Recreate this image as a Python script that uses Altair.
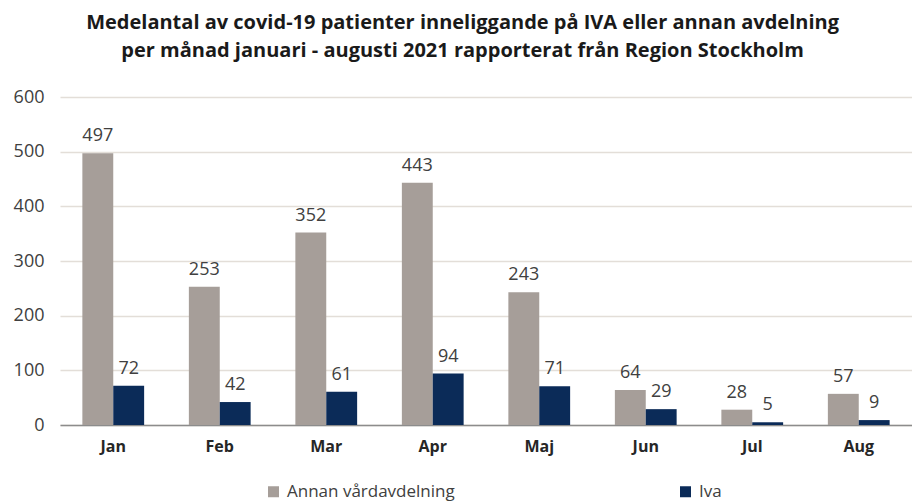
import altair as alt
import pandas as pd

months = ["Jan", "Feb", "Mar", "Apr", "Maj", "Jun", "Jul", "Aug"]
annan = [497, 253, 352, 443, 243, 64, 28, 57]
iva = [72, 42, 61, 94, 71, 29, 5, 9]
series = ["Annan vårdavdelning", "Iva"]
colors = ["#a69e99", "#0b2b58"]

rows = []
for i, m in enumerate(months):
    rows.append({"month": m, "series": series[0], "value": annan[i]})
    rows.append({"month": m, "series": series[1], "value": iva[i]})
df = pd.DataFrame(rows)

FONT = "Open Sans"

x = alt.X("month:N", sort=months, title=None,
          scale=alt.Scale(paddingInner=0.42, paddingOuter=0.21),
          axis=alt.Axis(labelAngle=0, labelFontWeight="bold", labelFontSize=16,
                        labelColor="#262626", labelPadding=13, ticks=False,
                        domainColor="#8c8c8c", domainWidth=1.5, labelFont=FONT))
xo = alt.XOffset("series:N", sort=series)
y = alt.Y("value:Q", title=None,
          scale=alt.Scale(domain=[0, 600]),
          axis=alt.Axis(values=[0, 100, 200, 300, 400, 500, 600], labelFontSize=18,
                        labelColor="#404040", labelPadding=16, ticks=False, domain=False,
                        gridColor="#e3ded8", gridWidth=1.5, labelFont=FONT))

base = alt.Chart(df)
bars = base.mark_bar().encode(
    x=x, xOffset=xo, y=y,
    color=alt.Color("series:N", sort=series,
                    scale=alt.Scale(domain=series, range=colors),
                    legend=alt.Legend(title=None, orient="none", legendX=205, legendY=386,
                                      direction="horizontal", symbolType="square",
                                      symbolSize=121, labelFontSize=17, labelColor="#404040",
                                      columnPadding=222, labelFont=FONT, symbolStrokeWidth=0,
                                      labelOffset=5, labelLimit=400)),
)
labels = base.mark_text(baseline="bottom", dy=-8, fontSize=18, color="#404040", font=FONT).encode(
    x=alt.X("month:N", sort=months), xOffset=xo, y="value:Q", text="value:Q"
)

chart = (bars + labels).properties(
    width=852, height=328,
    padding={"top": 5, "left": 5, "right": 0, "bottom": 5},
    title=alt.Title(["Medelantal av covid-19 patienter inneliggande på IVA eller annan avdelning",
                     "per månad januari - augusti 2021 rapporterat från Region Stockholm"],
                    fontSize=20, fontWeight="bold", font=FONT, color="#1a1a1a",
                    lineHeight=28, offset=27, anchor="middle", frame="bounds"),
).configure_view(stroke=None)

chart.save("out.html", embed_options={"renderer": "svg", "actions": False})
